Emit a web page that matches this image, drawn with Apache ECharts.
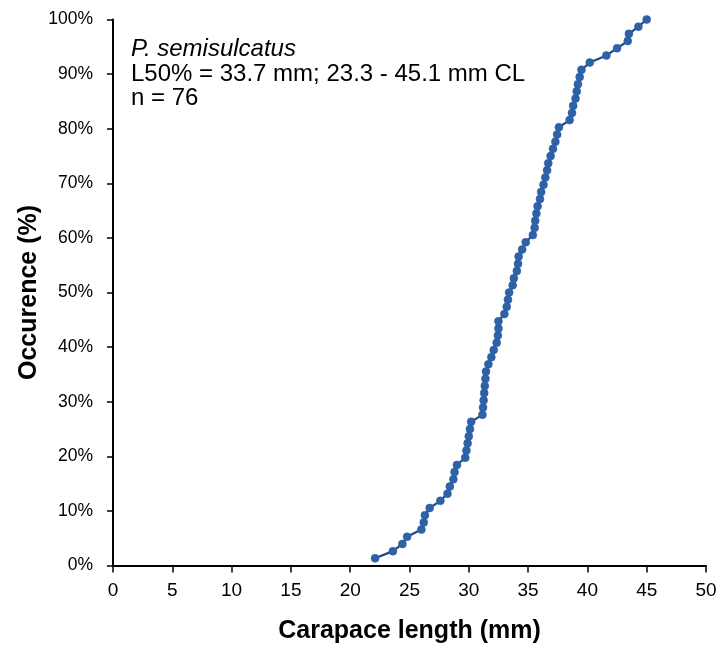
<!DOCTYPE html>
<html>
<head>
<meta charset="utf-8">
<script src="https://cdn.jsdelivr.net/npm/echarts@6/dist/echarts.min.js"></script>
<style>html,body{margin:0;padding:0;background:#fff}#c{width:718px;height:645px}</style>
</head>
<body>
<div id="c"></div>
<script>
// Carapace length (mm) of each sorted specimen
var lengths = [22.1,23.6,24.4,24.8,26.0,26.2,26.3,26.7,27.6,28.2,
  28.4,28.7,28.8,29.0,29.7,29.8,29.9,30.0,30.1,30.2,
  31.15,31.2,31.25,31.3,31.35,31.4,31.45,31.65,31.9,32.1,
  32.35,32.45,32.5,32.5,33.0,33.2,33.3,33.4,33.7,33.8,
  34.05,34.15,34.2,34.5,34.8,35.4,35.55,35.6,35.7,35.8,
  36.0,36.1,36.3,36.45,36.6,36.7,36.9,37.1,37.3,37.45,
  37.6,38.5,38.7,38.8,39.0,39.1,39.2,39.35,39.5,40.2,
  41.6,42.5,43.4,43.5,44.3,45.0];
// cumulative occurrence (%) : rank / n
var n = 76;
var occurrence = [];
for (var i = 0; i < lengths.length; i++) occurrence.push((i + 1) / n * 100);
var xTicks = [0,5,10,15,20,25,30,35,40,45,50];
var yTicks = [0,10,20,30,40,50,60,70,80,90,100];
var annotation = ['P. semisulcatus', 'L50% = 33.7 mm; 23.3 - 45.1 mm CL', 'n = 76'];

var data = lengths.map(function (x, k) { return [x, occurrence[k]]; });
var chart = echarts.init(document.getElementById('c'));
chart.setOption({
  animation: false,
  backgroundColor: '#fff',
  grid: { left: 113, right: 12, top: 19.5, bottom: 79.5, containLabel: false, outerBoundsMode: 'none' },
  xAxis: {
    type: 'value', min: xTicks[0], max: xTicks[xTicks.length - 1], interval: 5,
    name: 'Carapace length (mm)', nameLocation: 'middle', nameGap: 53,
    nameTextStyle: { fontFamily: 'Liberation Sans', fontWeight: 'bold', fontSize: 25, color: '#000' },
    axisLine: { show: true, lineStyle: { color: '#000', width: 2 } },
    axisTick: { show: true, length: 7, lineStyle: { color: '#000', width: 1.5 } },
    axisLabel: { fontFamily: 'Liberation Sans', fontSize: 19, color: '#000', margin: 16 },
    splitLine: { show: false }
  },
  yAxis: {
    type: 'value', min: yTicks[0], max: yTicks[yTicks.length - 1], interval: 10,
    name: 'Occurence (%)', nameLocation: 'middle', nameGap: 71, nameRotate: 90, nameMoveOverlap: false,
    nameTextStyle: { fontFamily: 'Liberation Sans', fontWeight: 'bold', fontSize: 25, color: '#000' },
    axisLine: { show: true, lineStyle: { color: '#000', width: 2 } },
    axisTick: { show: true, length: 6, lineStyle: { color: '#000', width: 1.5 } },
    axisLabel: { fontFamily: 'Liberation Sans', fontSize: 17.5, color: '#000', margin: 20,
      formatter: function (v) { return v + '%'; } },
    splitLine: { show: false }
  },
  graphic: [{
    type: 'group', left: 131, top: 37.5,
    children: [
      { type: 'text', x: 0, y: 0, style: { text: annotation[0], fontFamily: 'Liberation Sans', fontStyle: 'italic', fontSize: 24, fill: '#000' } },
      { type: 'text', x: 0, y: 24.5, style: { text: annotation[1], fontFamily: 'Liberation Sans', fontSize: 24, fill: '#000' } },
      { type: 'text', x: 0, y: 49, style: { text: annotation[2], fontFamily: 'Liberation Sans', fontSize: 24, fill: '#000' } }
    ]
  }],
  series: [{
    type: 'line', data: data,
    symbol: 'circle', symbolSize: 8,
    lineStyle: { color: '#1F4A8A', width: 2.2 },
    itemStyle: { color: '#2E62A8', borderColor: '#2A5A9C', borderWidth: 0.5 }
  }]
});
</script>
</body>
</html>
